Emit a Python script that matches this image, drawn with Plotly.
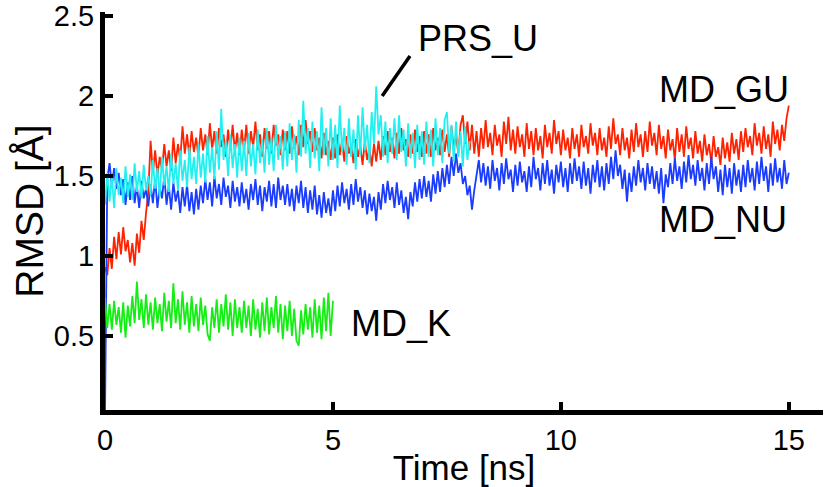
import plotly.graph_objects as go

# ---- data (RMSD in Angstrom, sampled every DT ns starting at T0) ----
T0 = 0.0
DT = 0.05

md_gu = [
    0.93, 0.88, 1.05, 0.92, 1.12, 0.98, 1.15, 1.01, 1.18, 1.03, 1.10, 0.96, 1.08, 0.94, 1.14, 1.02, 1.22, 1.10, 1.27, 1.40,
    1.72, 1.52, 1.66, 1.50, 1.62, 1.54, 1.70, 1.56, 1.66, 1.53, 1.74, 1.58, 1.70, 1.60, 1.81, 1.64, 1.76, 1.62, 1.78, 1.65,
    1.74, 1.62, 1.80, 1.66, 1.76, 1.63, 1.83, 1.67, 1.78, 1.64, 1.80, 1.68, 1.76, 1.62, 1.79, 1.66, 1.82, 1.65, 1.77, 1.63,
    1.79, 1.66, 1.82, 1.64, 1.78, 1.68, 1.84, 1.66, 1.76, 1.62, 1.80, 1.67, 1.78, 1.64, 1.82, 1.69, 1.76, 1.63, 1.79, 1.66,
    1.78, 1.64, 1.81, 1.67, 1.75, 1.63, 1.82, 1.68, 1.85, 1.70, 1.78, 1.65, 1.80, 1.66, 1.74, 1.61, 1.77, 1.63, 1.72, 1.60,
    1.74, 1.61, 1.76, 1.63, 1.72, 1.59, 1.75, 1.64, 1.70, 1.58, 1.73, 1.62, 1.69, 1.57, 1.72, 1.60, 1.68, 1.56, 1.70, 1.59,
    1.72, 1.60, 1.75, 1.63, 1.78, 1.65, 1.74, 1.61, 1.77, 1.64, 1.80, 1.66, 1.73, 1.62, 1.76, 1.64, 1.79, 1.65, 1.75, 1.62,
    1.78, 1.64, 1.76, 1.62, 1.80, 1.66, 1.74, 1.63, 1.79, 1.65, 1.76, 1.62, 1.81, 1.67, 1.75, 1.64, 1.82, 1.88, 1.70, 1.84,
    1.66, 1.82, 1.64, 1.78, 1.62, 1.80, 1.67, 1.85, 1.68, 1.77, 1.63, 1.82, 1.69, 1.76, 1.62, 1.84, 1.70, 1.87, 1.66, 1.79,
    1.64, 1.81, 1.68, 1.76, 1.62, 1.83, 1.67, 1.78, 1.63, 1.80, 1.66, 1.75, 1.61, 1.82, 1.68, 1.77, 1.64, 1.85, 1.70, 1.78,
    1.63, 1.79, 1.66, 1.74, 1.61, 1.80, 1.67, 1.76, 1.62, 1.82, 1.68, 1.75, 1.64, 1.83, 1.69, 1.77, 1.63, 1.80, 1.66, 1.74,
    1.62, 1.81, 1.67, 1.86, 1.70, 1.76, 1.63, 1.80, 1.66, 1.74, 1.61, 1.79, 1.65, 1.83, 1.68, 1.76, 1.62, 1.78, 1.65, 1.84,
    1.69, 1.77, 1.63, 1.82, 1.67, 1.75, 1.61, 1.79, 1.66, 1.73, 1.60, 1.80, 1.65, 1.76, 1.62, 1.81, 1.67, 1.74, 1.61, 1.78,
    1.64, 1.72, 1.59, 1.76, 1.63, 1.70, 1.58, 1.75, 1.62, 1.68, 1.57, 1.74, 1.61, 1.71, 1.59, 1.77, 1.64, 1.73, 1.60, 1.78,
    1.65, 1.80, 1.68, 1.75, 1.63, 1.83, 1.69, 1.77, 1.64, 1.81, 1.67, 1.76, 1.62, 1.84, 1.70, 1.79, 1.66, 1.82, 1.72, 1.86,
    1.94,
]

md_nu = [
    0.00, 1.48, 1.58, 1.44, 1.55, 1.42, 1.52, 1.38, 1.48, 1.32, 1.46, 1.35, 1.50, 1.33, 1.44, 1.30, 1.47, 1.36, 1.42, 1.31,
    1.45, 1.33, 1.48, 1.30, 1.43, 1.36, 1.50, 1.32, 1.44, 1.29, 1.46, 1.34, 1.41, 1.27, 1.43, 1.31, 1.45, 1.28, 1.40, 1.26,
    1.42, 1.29, 1.44, 1.33, 1.48, 1.35, 1.46, 1.31, 1.50, 1.36, 1.45, 1.32, 1.49, 1.37, 1.44, 1.30, 1.47, 1.34, 1.43, 1.31,
    1.46, 1.33, 1.42, 1.29, 1.45, 1.35, 1.48, 1.32, 1.44, 1.28, 1.43, 1.34, 1.47, 1.31, 1.45, 1.30, 1.49, 1.35, 1.44, 1.32,
    1.45, 1.31, 1.42, 1.28, 1.44, 1.33, 1.47, 1.30, 1.43, 1.27, 1.41, 1.29, 1.44, 1.26, 1.38, 1.24, 1.40, 1.27, 1.36, 1.25,
    1.41, 1.28, 1.44, 1.31, 1.46, 1.33, 1.42, 1.29, 1.45, 1.32, 1.48, 1.34, 1.43, 1.30, 1.41, 1.26, 1.39, 1.28, 1.37, 1.22,
    1.40, 1.29, 1.45, 1.33, 1.47, 1.35, 1.43, 1.30, 1.46, 1.32, 1.41, 1.27, 1.37, 1.23, 1.40, 1.31, 1.46, 1.34, 1.48, 1.36,
    1.50, 1.37, 1.47, 1.34, 1.51, 1.39, 1.53, 1.40, 1.55, 1.43, 1.57, 1.45, 1.62, 1.50, 1.64, 1.52, 1.58, 1.45, 1.50, 1.38,
    1.44, 1.29, 1.41, 1.50, 1.60, 1.46, 1.58, 1.44, 1.56, 1.42, 1.60, 1.47, 1.55, 1.41, 1.58, 1.45, 1.61, 1.48, 1.54, 1.40,
    1.57, 1.44, 1.59, 1.46, 1.53, 1.40, 1.56, 1.43, 1.62, 1.48, 1.55, 1.41, 1.58, 1.45, 1.60, 1.44, 1.54, 1.39, 1.57, 1.46,
    1.59, 1.43, 1.55, 1.40, 1.58, 1.45, 1.61, 1.47, 1.56, 1.42, 1.59, 1.44, 1.55, 1.39, 1.57, 1.46, 1.60, 1.43, 1.56, 1.41,
    1.58, 1.45, 1.62, 1.48, 1.66, 1.50, 1.57, 1.42, 1.54, 1.34, 1.52, 1.40, 1.56, 1.44, 1.60, 1.46, 1.55, 1.41, 1.58, 1.45,
    1.56, 1.42, 1.53, 1.39, 1.55, 1.33, 1.51, 1.43, 1.58, 1.45, 1.61, 1.47, 1.56, 1.42, 1.59, 1.46, 1.63, 1.48, 1.57, 1.44,
    1.60, 1.47, 1.55, 1.41, 1.58, 1.45, 1.62, 1.48, 1.56, 1.40, 1.54, 1.38, 1.57, 1.43, 1.55, 1.39, 1.58, 1.44, 1.54, 1.40,
    1.57, 1.43, 1.60, 1.46, 1.55, 1.41, 1.59, 1.45, 1.62, 1.47, 1.56, 1.40, 1.58, 1.44, 1.61, 1.46, 1.55, 1.42, 1.60, 1.45,
    1.52,
]

prs_u = [
    1.32, 1.52, 1.34, 1.50, 1.30, 1.55, 1.38, 1.49, 1.33, 1.56, 1.37, 1.51, 1.35, 1.58, 1.40, 1.53, 1.36, 1.57, 1.41, 1.50,
    1.38, 1.60, 1.42, 1.55, 1.37, 1.62, 1.44, 1.56, 1.40, 1.64, 1.45, 1.58, 1.41, 1.66, 1.47, 1.60, 1.43, 1.68, 1.48, 1.62,
    1.45, 1.70, 1.49, 1.64, 1.46, 1.75, 1.52, 1.68, 1.48, 1.78, 1.54, 1.92, 1.60, 1.72, 1.50, 1.76, 1.55, 1.70, 1.49, 1.74,
    1.53, 1.72, 1.50, 1.77, 1.56, 1.70, 1.51, 1.79, 1.58, 1.73, 1.52, 1.80, 1.57, 1.74, 1.53, 1.82, 1.60, 1.75, 1.54, 1.78,
    1.56, 1.83, 1.60, 1.76, 1.52, 1.85, 1.62, 1.97, 1.64, 1.80, 1.55, 1.84, 1.61, 1.78, 1.53, 1.93, 1.63, 1.80, 1.56, 1.86,
    1.60, 1.82, 1.55, 1.94, 1.65, 1.80, 1.57, 1.86, 1.62, 1.79, 1.54, 1.88, 1.63, 1.93, 1.66, 1.82, 1.58, 1.90, 1.70, 2.06,
    1.76, 1.88, 1.62, 1.84, 1.58, 1.80, 1.64, 1.86, 1.60, 1.88, 1.65, 1.79, 1.56, 1.83, 1.61, 1.77, 1.55, 1.82, 1.60, 1.78,
    1.57, 1.84, 1.62, 1.79, 1.56, 1.86, 1.63, 1.80, 1.58, 1.85, 1.90, 1.64, 1.82, 1.59, 1.84, 1.62, 1.78, 1.56, 1.81, 1.60,
    1.72,
]

md_k = [
    0.74, 0.55, 0.70, 0.54, 0.72, 0.57, 0.68, 0.52, 0.71, 0.49, 0.69, 0.56, 0.75, 0.58, 0.84, 0.60, 0.73, 0.55, 0.76, 0.57,
    0.71, 0.54, 0.74, 0.58, 0.70, 0.53, 0.77, 0.59, 0.72, 0.55, 0.83, 0.58, 0.73, 0.54, 0.78, 0.57, 0.71, 0.52, 0.75, 0.56,
    0.70, 0.53, 0.74, 0.57, 0.69, 0.51, 0.47, 0.68, 0.55, 0.73, 0.52, 0.70, 0.56, 0.76, 0.54, 0.71, 0.50, 0.73, 0.55, 0.68,
    0.52, 0.72, 0.55, 0.69, 0.50, 0.73, 0.54, 0.67, 0.49, 0.71, 0.53, 0.74, 0.51, 0.68, 0.55, 0.75, 0.52, 0.70, 0.48, 0.69,
    0.53, 0.72, 0.50, 0.67, 0.47, 0.44, 0.66, 0.51, 0.70, 0.54, 0.68, 0.49, 0.73, 0.52, 0.69, 0.48, 0.74, 0.53, 0.77, 0.50,
    0.72,
]

series_names = ["MD_GU", "MD_NU", "PRS_U", "MD_K"]
series_colors = ["#ff2200", "#1a3cff", "#22f0f0", "#14ee14"]
x_ticks = [0, 5, 10, 15]
y_ticks = [0.5, 1, 1.5, 2, 2.5]


def times(values):
    return [round(T0 + i * DT, 4) for i in range(len(values))]


FONT = "Liberation Sans, Arial, Helvetica, sans-serif"

fig = go.Figure()
for vals, name, col in zip([md_gu, md_nu, prs_u, md_k], series_names, series_colors):
    fig.add_trace(go.Scatter(
        x=times(vals), y=vals, mode="lines", name=name,
        line=dict(color=col, width=1.8), showlegend=False,
    ))

# labels next to the curves
fig.add_annotation(x=12.1, y=2.04, text="MD_GU", showarrow=False, xanchor="left", yanchor="middle",
                   font=dict(size=36, color="black", family=FONT))
fig.add_annotation(x=12.1, y=1.23, text="MD_NU", showarrow=False, xanchor="left", yanchor="middle",
                   font=dict(size=36, color="black", family=FONT))
fig.add_annotation(x=5.35, y=0.58, text="MD_K", showarrow=False, xanchor="left", yanchor="middle",
                   font=dict(size=36, color="black", family=FONT))
fig.add_annotation(x=6.82, y=2.36, text="PRS_U", showarrow=False, xanchor="left", yanchor="middle",
                   font=dict(size=36, color="black", family=FONT))
# pointer line for PRS_U
fig.add_shape(type="line", x0=6.08, y0=2.0, x1=6.69, y1=2.25, xref="x", yref="y",
              line=dict(color="black", width=3.5))

fig.update_layout(
    width=825, height=487,
    margin=dict(l=105, r=2, t=12, b=77),
    paper_bgcolor="white", plot_bgcolor="white",
    font=dict(family=FONT, color="black"),
)
fig.update_xaxes(
    range=[0, 15.75], tickvals=x_ticks, ticktext=[str(v) for v in x_ticks],
    automargin=False,
    showgrid=False, zeroline=False, showline=True, linecolor="black", linewidth=5,
    ticks="inside", ticklen=8, tickwidth=4, tickcolor="black",
    tickfont=dict(size=29, family=FONT, color="black"),
    title=dict(text="Time [ns]", font=dict(size=35, family=FONT, color="black"), standoff=4),
)
fig.update_yaxes(
    range=[0.0375, 2.525], tickvals=y_ticks, ticktext=["0.5", "1", "1.5", "2", "2.5"],
    automargin=False,
    showgrid=False, zeroline=False, showline=True, linecolor="black", linewidth=5,
    ticks="inside", ticklen=8, tickwidth=4, tickcolor="black",
    tickfont=dict(size=29, family=FONT, color="black"),
    title=dict(text="RMSD [Å]", font=dict(size=39, family=FONT, color="black"), standoff=0),
)

fig.write_html(
    "out.html",
    config={"displayModeBar": False},
    post_script="document.body.style.margin='0';document.body.style.overflow='hidden';",
)
